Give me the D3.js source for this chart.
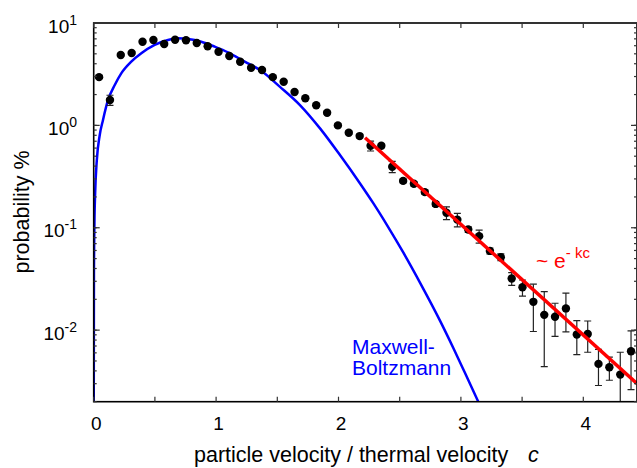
<!DOCTYPE html>
<html>
<head>
<meta charset="utf-8">
<script src="https://cdn.jsdelivr.net/npm/d3@7"></script>
<style>
  body { margin: 0; background: #fff; }
  text { font-family: "Liberation Sans", Arial, Helvetica, sans-serif; }
</style>
</head>
<body>
<div id="vis"></div>
<script>
// measured points: c (velocity / thermal velocity), probability %, error
var cVals = [0.044, 0.133, 0.221, 0.310, 0.399, 0.488, 0.576, 0.665, 0.754, 0.842,
             0.931, 1.020, 1.108, 1.197, 1.286, 1.375, 1.463, 1.552, 1.641, 1.729,
             1.818, 1.907, 1.995, 2.084, 2.173, 2.262, 2.350, 2.439, 2.528, 2.616,
             2.705, 2.794, 2.882, 2.971, 3.060, 3.149, 3.237, 3.326, 3.415, 3.503,
             3.592, 3.681, 3.769, 3.858, 3.947, 4.036, 4.124, 4.213, 4.302, 4.390];
var probVals = [2.96, 1.77, 4.87, 5.09, 6.57, 6.82, 6.23, 6.87, 6.78, 6.37,
                5.92, 5.24, 4.76, 4.19, 3.66, 3.47, 2.96, 2.67, 2.12, 1.84,
                1.57, 1.33, 1.00, 0.847, 0.786, 0.632, 0.632, 0.395, 0.287, 0.269,
                0.223, 0.171, 0.140, 0.120, 0.0962, 0.0828, 0.0594, 0.0516, 0.0319, 0.0262,
                0.0189, 0.0141, 0.0135, 0.0163, 0.00906, 0.00918, 0.00468, 0.00434, 0.00368, 0.00622];
var errVals = [0.08, 0.2, 0.1, 0.1, 0.12, 0.12, 0.12, 0.12, 0.12, 0.11,
               0.11, 0.1, 0.1, 0.09, 0.08, 0.08, 0.07, 0.07, 0.06, 0.05,
               0.05, 0.04, 0.035, 0.03, 0.03, 0.07, 0.025, 0.05, 0.012, 0.012,
               0.01, 0.009, 0.02, 0.018, 0.006, 0.012, 0.004, 0.004, 0.0045, 0.0047,
               0.0092, 0.0097, 0.0048, 0.0067, 0.0033, 0.0031, 0.0018, 0.0011, 0.0024, 0.0036];

// Maxwell-Boltzmann curve
var mbC = [0.0005, 0.002, 0.006, 0.012, 0.025, 0.049, 0.076, 0.117, 0.172, 0.225,
           0.307, 0.389, 0.498, 0.607, 0.689, 0.770, 0.879, 0.989, 1.097, 1.234,
           1.359, 1.522, 1.685, 1.849, 2.012, 2.176, 2.284, 2.40, 2.529, 2.67,
           2.829, 2.938, 3.03, 3.142];
var mbP = [0.002, 0.035, 0.11, 0.22, 0.45, 0.80, 1.13, 1.77, 2.48, 3.22,
           4.19, 5.06, 6.10, 6.82, 7.08, 6.98, 6.57, 5.87, 5.17, 4.19,
           3.47, 2.38, 1.58, 0.935, 0.513, 0.271, 0.174, 0.1045, 0.0574, 0.0285,
           0.0124, 0.0067, 0.0039, 0.002];

// exponential fit ~ e^-kc
var fitC = [2.217, 4.44];
var fitP = [0.757, 0.0030];

var xTicks = [0, 0.5, 1, 1.5, 2, 2.5, 3, 3.5, 4];
var xLabels = [0, 1, 2, 3, 4];
var yExps = [1, 0, -1, -2];

var W = 637, H = 468,
    padL = 93.7, padR = 637, padT = 23, padB = 401.7;

var svg = d3.select("#vis").append("svg").attr("width", W).attr("height", H);

var x = d3.scaleLinear().domain([0, (padR - padL) / 122.4]).range([padL, padR]);
var y = d3.scaleLog().domain([0.002, 10]).range([padB, padT]);

svg.append("clipPath").attr("id", "plot")
  .append("rect").attr("x", padL).attr("y", padT).attr("width", padR - padL).attr("height", padB - padT);

var plot = svg.append("g").attr("clip-path", "url(#plot)");

// blue curve
var mbData = mbC.map(function (c, i) { return [c, mbP[i]]; });
plot.append("path")
  .datum(mbData)
  .attr("fill", "none").attr("stroke", "#0000ff").attr("stroke-width", 2.5)
  .attr("d", d3.line().x(function (d) { return x(d[0]); }).y(function (d) { return y(d[1]); })
    .curve(d3.curveMonotoneX));

// points with error bars
var pts = cVals.map(function (c, i) { return { c: c, p: probVals[i], e: errVals[i] }; });
function yClamp(v) { return v <= 0.002 ? padB + 5 : y(v); }

var eb = plot.append("g").attr("stroke", "#222").attr("stroke-width", 1.2);
pts.forEach(function (d) {
  var cx = x(d.c), y1 = y(d.p + d.e), y0 = yClamp(d.p - d.e);
  eb.append("line").attr("x1", cx).attr("x2", cx).attr("y1", y1).attr("y2", y0);
  eb.append("line").attr("x1", cx - 3.5).attr("x2", cx + 3.5).attr("y1", y1).attr("y2", y1);
  eb.append("line").attr("x1", cx - 3.5).attr("x2", cx + 3.5).attr("y1", y0).attr("y2", y0);
});

plot.selectAll("circle.pt").data(pts).enter().append("circle")
  .attr("class", "pt")
  .attr("cx", function (d) { return x(d.c); })
  .attr("cy", function (d) { return y(d.p); })
  .attr("r", 4.2)
  .attr("fill", "#000");

// red fit line
plot.append("path")
  .datum(fitC.map(function (c, i) { return [c, fitP[i]]; }))
  .attr("fill", "none").attr("stroke", "#ff0000").attr("stroke-width", 3.5)
  .attr("d", d3.line().x(function (d) { return x(d[0]); }).y(function (d) { return y(d[1]); }));

// frame
svg.append("rect").attr("x", padL).attr("y", padT).attr("width", padR - padL).attr("height", padB - padT)
  .attr("fill", "none").attr("stroke", "#000").attr("stroke-width", 1.6);

// x ticks (bottom and top, inward)
var tk = svg.append("g").attr("stroke", "#333").attr("stroke-width", 1.2);
xTicks.forEach(function (t) {
  var px = x(t);
  tk.append("line").attr("x1", px).attr("x2", px).attr("y1", padB).attr("y2", padB - 5);
  tk.append("line").attr("x1", px).attr("x2", px).attr("y1", padT).attr("y2", padT + 5);
});

// y ticks, major and minor, both sides
yExps.forEach(function (e) {
  var v = Math.pow(10, e);
  tk.append("line").attr("x1", padL).attr("x2", padL + 6).attr("y1", y(v)).attr("y2", y(v));
  tk.append("line").attr("x1", padR).attr("x2", padR - 6).attr("y1", y(v)).attr("y2", y(v));
});
y.ticks().forEach(function (v) {
  var py = y(v);
  tk.append("line").attr("x1", padL).attr("x2", padL + 3).attr("y1", py).attr("y2", py);
  tk.append("line").attr("x1", padR).attr("x2", padR - 3).attr("y1", py).attr("y2", py);
});

// tick labels
svg.selectAll("text.xl").data(xLabels).enter().append("text")
  .attr("class", "xl")
  .attr("x", function (d) { return x(d) + 2.5; })
  .attr("y", 430)
  .attr("text-anchor", "middle")
  .attr("font-size", 19)
  .text(function (d) { return d; });

yExps.forEach(function (e) {
  var t = svg.append("text").attr("x", 77).attr("y", y(Math.pow(10, e)) + 9.5)
    .attr("text-anchor", "end").attr("font-size", 19);
  t.append("tspan").text("10");
  t.append("tspan").attr("dy", -8).attr("font-size", 14).text(e);
});

// axis titles
var xt = svg.append("text").attr("x", 194).attr("y", 462).attr("font-size", 21.5);
xt.append("tspan").text("particle velocity / thermal velocity");
xt.append("tspan").attr("x", 528).attr("font-style", "italic").text("c");

svg.append("text")
  .attr("transform", "translate(29,212) rotate(-90)")
  .attr("text-anchor", "middle")
  .attr("font-size", 21.5)
  .text("probability %");

// annotations
svg.append("text").attr("x", 352).attr("y", 354).attr("font-size", 21).attr("fill", "#0000ff").text("Maxwell-");
svg.append("text").attr("x", 352).attr("y", 375).attr("font-size", 21).attr("fill", "#0000ff").text("Boltzmann");

var ek = svg.append("text").attr("x", 536).attr("y", 268).attr("font-size", 21).attr("fill", "#ff0000");
ek.append("tspan").text("~ e");
ek.append("tspan").attr("dy", -10).attr("font-size", 15).text("- kc");
</script>
</body>
</html>
